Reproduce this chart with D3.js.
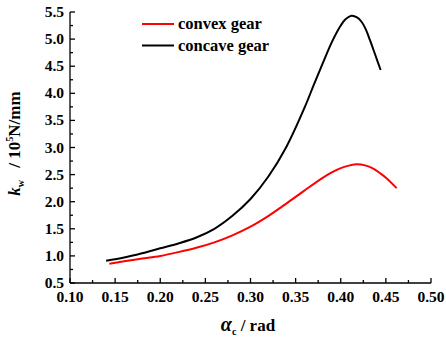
<!DOCTYPE html>
<html>
<head>
<meta charset="utf-8">
<script src="https://cdn.jsdelivr.net/npm/d3@7"></script>
<style>
  html, body { margin: 0; padding: 0; background: #fff; }
</style>
</head>
<body>
<svg id="chart" width="446" height="343"></svg>
<script>
// Stiffness k_w vs. contact angle alpha_c
const convexAlpha = [0.1436, 0.16, 0.18, 0.20, 0.22, 0.24, 0.26, 0.28, 0.30, 0.32, 0.34, 0.36, 0.38, 0.39, 0.40, 0.41, 0.418, 0.427, 0.436, 0.444, 0.451, 0.462];
const convexK     = [0.856, 0.90, 0.95, 1.00, 1.07, 1.15, 1.25, 1.38, 1.54, 1.74, 1.97, 2.21, 2.44, 2.54, 2.62, 2.67, 2.69, 2.67, 2.61, 2.52, 2.43, 2.25];
const concaveAlpha = [0.14, 0.16, 0.18, 0.20, 0.22, 0.24, 0.26, 0.28, 0.30, 0.32, 0.34, 0.36, 0.37, 0.38, 0.39, 0.40, 0.405, 0.412, 0.418, 0.423, 0.428, 0.4324, 0.438, 0.4442];
const concaveK     = [0.91, 0.97, 1.05, 1.14, 1.23, 1.34, 1.50, 1.74, 2.05, 2.47, 3.02, 3.74, 4.15, 4.55, 4.94, 5.25, 5.36, 5.43, 5.40, 5.32, 5.17, 4.98, 4.72, 4.43];
const xTicks = [0.10, 0.15, 0.20, 0.25, 0.30, 0.35, 0.40, 0.45, 0.50];
const yTicks = [0.5, 1.0, 1.5, 2.0, 2.5, 3.0, 3.5, 4.0, 4.5, 5.0, 5.5];
const seriesNames = ["convex gear", "concave gear"];
const seriesColors = ["#ff0000", "#000000"];

const svg = d3.select("#chart")
  .style("font-family", "'Liberation Serif'").style("font-weight", "bold");
const plotLeft = 70, plotRight = 431, plotTop = 12, plotBottom = 283;

const x = d3.scaleLinear().domain([0.10, 0.50]).range([plotLeft, plotRight]);
const y = d3.scaleLinear().domain([0.5, 5.5]).range([plotBottom, plotTop]);

// minor ticks halfway between majors
const xMinor = d3.range(0.125, 0.5, 0.05);
const yMinor = d3.range(0.75, 5.5, 0.5);

const axes = svg.append("g").attr("stroke", "#000").attr("stroke-width", 1.3);
axes.append("line").attr("x1", plotLeft).attr("x2", plotRight).attr("y1", plotBottom).attr("y2", plotBottom);
axes.append("line").attr("x1", plotLeft).attr("x2", plotLeft).attr("y1", plotBottom).attr("y2", plotTop);

xTicks.forEach(t => axes.append("line").attr("x1", x(t)).attr("x2", x(t)).attr("y1", plotBottom).attr("y2", plotBottom - 5));
xMinor.forEach(t => axes.append("line").attr("x1", x(t)).attr("x2", x(t)).attr("y1", plotBottom).attr("y2", plotBottom - 3));
yTicks.forEach(t => axes.append("line").attr("x1", plotLeft).attr("x2", plotLeft + 5).attr("y1", y(t)).attr("y2", y(t)));
yMinor.forEach(t => axes.append("line").attr("x1", plotLeft).attr("x2", plotLeft + 3).attr("y1", y(t)).attr("y2", y(t)));

svg.append("g").selectAll("text").data(xTicks).join("text")
  .attr("x", d => x(d)).attr("y", 302).attr("text-anchor", "middle")
  .style("font-size", "15.5px").text(d => d.toFixed(2));

svg.append("g").selectAll("text").data(yTicks).join("text")
  .attr("x", 64).attr("y", d => y(d) + 5).attr("text-anchor", "end")
  .style("font-size", "15.5px").text(d => d.toFixed(1));

// axis titles
const xt = svg.append("text").attr("x", 248).attr("y", 331).attr("text-anchor", "middle").style("font-size", "17px");
xt.append("tspan").style("font-style", "italic").style("font-size", "20px").text("α");
xt.append("tspan").style("font-size", "10px").attr("dy", 4).text("c");
xt.append("tspan").attr("dy", -4).text(" / rad");

const yt = svg.append("text").attr("transform", "translate(20,143.5) rotate(-90)")
  .attr("text-anchor", "middle").style("font-size", "17px");
yt.append("tspan").style("font-style", "italic").text("k");
yt.append("tspan").style("font-size", "10px").attr("dy", 4).text("w");
yt.append("tspan").attr("dy", -4).attr("dx", 8).text(" / 10");
yt.append("tspan").style("font-size", "10px").attr("dy", -7).text("5");
yt.append("tspan").attr("dy", 7).text("N/mm");

// curves
const line = d3.line().x(d => x(d[0])).y(d => y(d[1])).curve(d3.curveCatmullRom.alpha(0.5));
const series = [d3.zip(convexAlpha, convexK), d3.zip(concaveAlpha, concaveK)];
series.forEach((s, i) => {
  svg.append("path").datum(s).attr("d", line).attr("fill", "none")
    .attr("stroke", seriesColors[i]).attr("stroke-width", 2);
});

// legend
const legend = svg.append("g");
seriesNames.forEach((n, i) => {
  const ly = 24 + i * 21.5;
  legend.append("line").attr("x1", 142).attr("x2", 174).attr("y1", ly).attr("y2", ly)
    .attr("stroke", seriesColors[i]).attr("stroke-width", 2);
  legend.append("text").attr("x", 178).attr("y", ly + 5).style("font-size", "16.5px").text(n);
});
</script>
</body>
</html>
